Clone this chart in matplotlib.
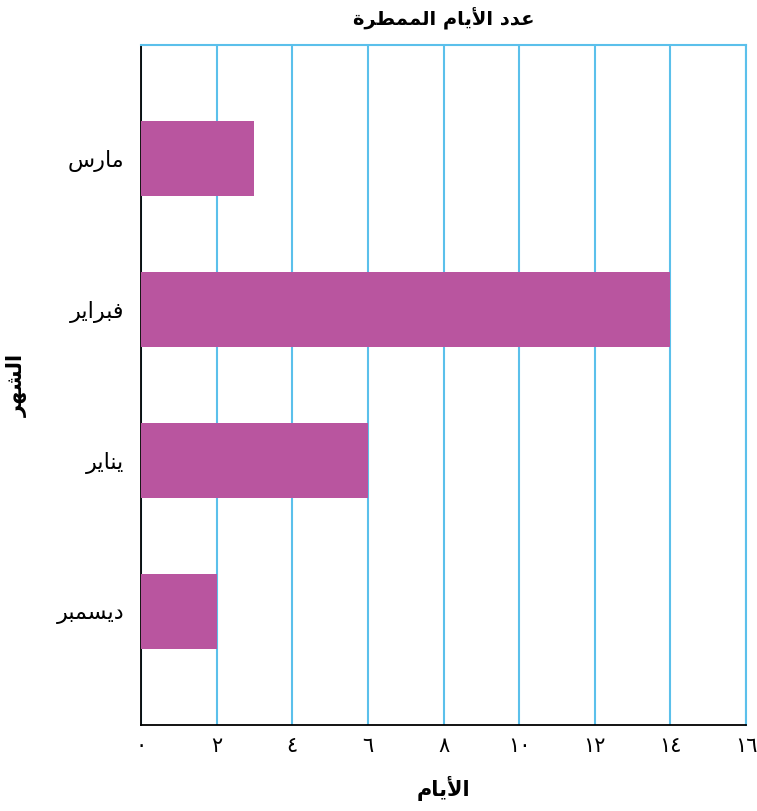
import matplotlib
matplotlib.use("Agg")
import matplotlib.pyplot as plt

# data, top to bottom as in the reference
months = ["مارس", "فبراير", "يناير", "ديسمبر"]
days = [3, 14, 6, 2]
x_ticks = [0, 2, 4, 6, 8, 10, 12, 14, 16]
title = "عدد الأيام الممطرة"
xlabel = "الأيام"
ylabel = "الشهر"

BAR = "#B9559F"
GRID = "#5BC0EB"

# minimal arabic shaping: (isolated, final, initial, medial)
FORMS = {
    "ا": (0xFE8D, 0xFE8E, None, None),
    "أ": (0xFE83, 0xFE84, None, None),
    "ب": (0xFE8F, 0xFE90, 0xFE91, 0xFE92),
    "ة": (0xFE93, 0xFE94, None, None),
    "د": (0xFEA9, 0xFEAA, None, None),
    "ر": (0xFEAD, 0xFEAE, None, None),
    "س": (0xFEB1, 0xFEB2, 0xFEB3, 0xFEB4),
    "ش": (0xFEB5, 0xFEB6, 0xFEB7, 0xFEB8),
    "ط": (0xFEC1, 0xFEC2, 0xFEC3, 0xFEC4),
    "ع": (0xFEC9, 0xFECA, 0xFECB, 0xFECC),
    "ف": (0xFED1, 0xFED2, 0xFED3, 0xFED4),
    "ل": (0xFEDD, 0xFEDE, 0xFEDF, 0xFEE0),
    "م": (0xFEE1, 0xFEE2, 0xFEE3, 0xFEE4),
    "ن": (0xFEE5, 0xFEE6, 0xFEE7, 0xFEE8),
    "ه": (0xFEE9, 0xFEEA, 0xFEEB, 0xFEEC),
    "ي": (0xFEF1, 0xFEF2, 0xFEF3, 0xFEF4),
    "لا": (0xFEFB, 0xFEFC, None, None),
    "لأ": (0xFEF7, 0xFEF8, None, None),
}


def shape_word(word):
    # merge lam-alef
    units = []
    i = 0
    while i < len(word):
        if word[i] == "ل" and i + 1 < len(word) and word[i + 1] in "اأ":
            units.append(word[i:i + 2])
            i += 2
        else:
            units.append(word[i])
            i += 1
    out = []
    for k, u in enumerate(units):
        f = FORMS[u]
        prev_joins = k > 0 and FORMS[units[k - 1]][2] is not None
        next_exists = k + 1 < len(units)
        can_fwd = f[2] is not None and next_exists
        if prev_joins and can_fwd:
            c = f[3]
        elif prev_joins:
            c = f[1]
        elif can_fwd:
            c = f[2]
        else:
            c = f[0]
        out.append(chr(c))
    return "".join(reversed(out))


def ar(text):
    return " ".join(shape_word(w) for w in reversed(text.split(" ")))


def ar_digits(n):
    return "".join(chr(0x0660 + int(d)) for d in str(n))


fig = plt.figure(figsize=(7.57, 8.11), dpi=100)
ax = fig.add_axes([141 / 757, 86 / 811, 605 / 757, 680 / 811])

ypos = list(range(len(months)))[::-1]
ax.barh(ypos, days, height=0.5, color=BAR, zorder=3)

ax.set_xlim(0, 16)
ax.set_ylim(-0.75, 3.75)
ax.set_xticks(x_ticks)
ax.set_xticklabels([ar_digits(t) for t in x_ticks], fontsize=15)
ax.set_yticks(ypos)
ax.set_yticklabels([ar(m) for m in months], fontsize=16)
ax.tick_params(axis="both", length=0)
ax.tick_params(axis="x", pad=8)
ax.tick_params(axis="y", pad=12)

ax.grid(axis="x", color=GRID, linewidth=1.5, zorder=0)
ax.grid(axis="y", visible=False)
for side in ("left", "bottom"):
    ax.spines[side].set_color("black")
    ax.spines[side].set_linewidth(1.3)
for side in ("top", "right"):
    ax.spines[side].set_color(GRID)
    ax.spines[side].set_linewidth(1.5)

ax.set_title(ar(title), fontsize=14, fontweight="bold", pad=14)
ax.set_xlabel(ar(xlabel), fontsize=15, fontweight="bold", labelpad=14)
ax.set_ylabel(ar(ylabel), fontsize=15, fontweight="bold")
ax.yaxis.set_label_coords(-0.187, 0.5)

fig.savefig("out.png", dpi=100)
